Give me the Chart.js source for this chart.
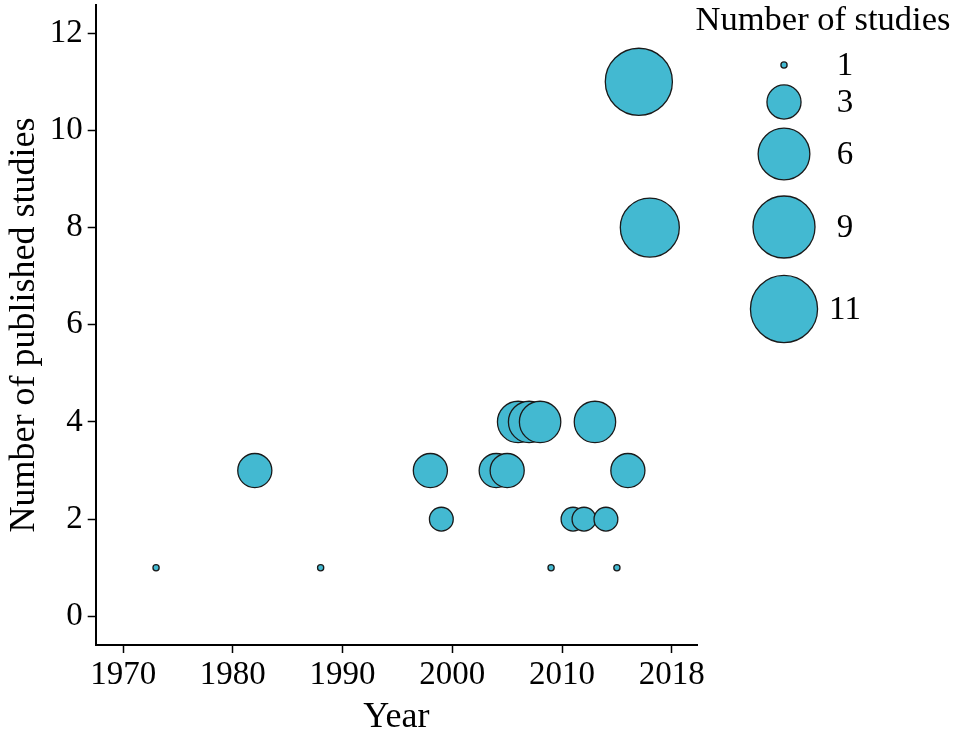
<!DOCTYPE html>
<html>
<head>
<meta charset="utf-8">
<title>Number of published studies per year</title>
<script src="https://cdn.jsdelivr.net/npm/chart.js@4.4.0/dist/chart.umd.min.js"></script>
<style>
  html, body { margin: 0; padding: 0; background: #fff; }
  .chart-box { position: relative; width: 957px; height: 735px; }
</style>
</head>
<body>
<div class="chart-box"><canvas id="bubbleChart"></canvas></div>
<script>
// Publication years and how many studies came out in each
const years   = [1973, 1982, 1988, 1998, 1999, 2004, 2005, 2006, 2007, 2008, 2009, 2011, 2012, 2013, 2014, 2015, 2016, 2017, 2018];
const studies = [1, 3, 1, 3, 2, 3, 3, 4, 4, 4, 1, 2, 2, 4, 2, 1, 3, 11, 8];

// Axis ticks (the last x tick sits at 2020 but reads 2018 in the original)
const xTickValues = [1970, 1980, 1990, 2000, 2010, 2020];
const xTickLabels = ['1970', '1980', '1990', '2000', '2010', '2018'];
const yTickValues = [0, 2, 4, 6, 8, 10, 12];

// Size legend entries
const legendCounts = [1, 3, 6, 9, 11];

const fillColor = '#43b9d1';
const edgeColor = '#1a1a1a';
const serif = '"Liberation Serif", "Times New Roman", serif';

// size scale: count -> bubble radius in px
function bubbleRadius(n) {
    return 3.1 + 12.7 * Math.log(n);
}

// Draws the "Number of studies" size legend at the right
const sizeLegend = {
    id: 'sizeLegend',
    afterDraw(chart) {
        const ctx = chart.ctx;
        const slotY = [65, 102, 154, 227, 309];
        ctx.save();
        ctx.textAlign = 'center';
        ctx.textBaseline = 'middle';
        ctx.fillStyle = '#000';
        ctx.font = '34.5px ' + serif;
        ctx.fillText('Number of studies', 823, 21);
        ctx.font = '33px ' + serif;
        legendCounts.forEach(function(n, i) {
            ctx.beginPath();
            ctx.arc(784, slotY[i], bubbleRadius(n), 0, Math.PI * 2);
            ctx.fillStyle = fillColor;
            ctx.fill();
            ctx.lineWidth = 1.3;
            ctx.strokeStyle = edgeColor;
            ctx.stroke();
            ctx.fillStyle = '#000';
            ctx.fillText(String(n), 845, slotY[i] + 1);
        });
        ctx.restore();
    }
};

const tickFont = { family: serif, size: 33 };
const titleFont = { family: serif, size: 36 };

const ctx = document.getElementById('bubbleChart').getContext('2d');
const bubbleChart = new Chart(ctx, {
    type: 'bubble',
    data: {
        datasets: [{
            label: 'Number of studies',
            data: years.map((y, i) => ({ x: y, y: studies[i], r: bubbleRadius(studies[i]) })),
            backgroundColor: fillColor,
            borderColor: edgeColor,
            borderWidth: 1.3
        }]
    },
    options: {
        responsive: true,
        maintainAspectRatio: false,
        animation: false,
        events: [],
        // no auto padding for the big bubbles, the axes sit where the original has them
        layout: { autoPadding: false, padding: { top: 5, right: 260, bottom: 0, left: 0 } },
        plugins: {
            legend: { display: false },
            tooltip: { enabled: false }
        },
        scales: {
            x: {
                type: 'linear',
                min: 1967.5,
                max: 2022.3,
                afterBuildTicks: scale => { scale.ticks = xTickValues.map(v => ({ value: v })); },
                afterFit: scale => { scale.height = 90; scale.paddingLeft = 0; },
                ticks: {
                    callback: (value, index) => xTickLabels[index],
                    font: tickFont,
                    color: '#000',
                    padding: 3,
                    maxRotation: 0,
                    autoSkip: false
                },
                grid: { drawOnChartArea: false, tickLength: 8, tickColor: '#000', tickWidth: 1.5 },
                border: { color: '#000', width: 2 },
                title: { display: true, text: 'Year', font: titleFont, color: '#000', padding: { top: 0, bottom: -4 } }
            },
            y: {
                type: 'linear',
                min: -0.59,
                max: 12.58,
                afterBuildTicks: scale => { scale.ticks = yTickValues.map(v => ({ value: v })); },
                afterFit: scale => { scale.width = 95.7; scale.paddingTop = 0; scale.paddingBottom = 0; },
                ticks: {
                    font: tickFont,
                    color: '#000',
                    padding: 5
                },
                grid: { drawOnChartArea: false, tickLength: 8, tickColor: '#000', tickWidth: 1.5 },
                border: { color: '#000', width: 2 },
                title: { display: true, text: 'Number of published studies', font: titleFont, color: '#000', padding: { top: 3, bottom: 0 } }
            }
        }
    },
    plugins: [sizeLegend]
});
</script>
</body>
</html>
